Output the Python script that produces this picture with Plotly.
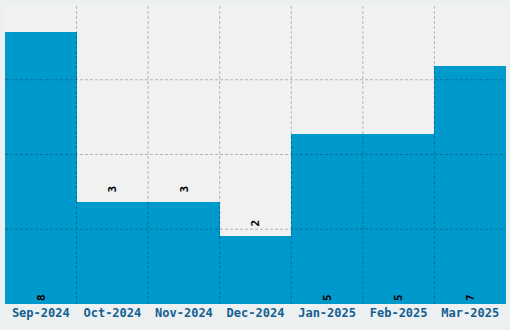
import plotly.graph_objects as go

categories = ["Sep-2024", "Oct-2024", "Nov-2024", "Dec-2024", "Jan-2025", "Feb-2025", "Mar-2025"]
values = [8, 3, 3, 2, 5, 5, 7]
label_positions = ["inside", "outside", "outside", "outside", "inside", "inside", "inside"]

y_max = 8.8
n = len(categories)
xs = list(range(n))

labels = [("\u00a0" + str(v)) if p == "outside" else str(v)
          for v, p in zip(values, label_positions)]

fig = go.Figure()
fig.add_trace(go.Bar(
    x=xs, y=values, width=1.0,
    marker=dict(color="#0099cc", line=dict(width=0)),
    text=labels,
    textposition=label_positions,
    insidetextanchor="start",
    textangle=-90,
    textfont=dict(family="DejaVu Sans Mono", size=11, color="#000000", weight="bold"),
    cliponaxis=False,
    hoverinfo="skip",
))

grid = dict(color="rgba(0,0,0,0.25)", width=1, dash="3px,2px")
shapes = []
for i in range(n - 1):
    shapes.append(dict(type="line", layer="above", xref="x", yref="paper",
                       x0=i + 0.5, x1=i + 0.5, y0=0, y1=1, line=grid))
for k in range(1, 4):
    shapes.append(dict(type="line", layer="above", xref="paper", yref="y",
                       x0=0, x1=1, y0=y_max * k / 4, y1=y_max * k / 4, line=grid))

fig.update_layout(
    width=510, height=330,
    margin=dict(l=5, r=4, t=5, b=26),
    paper_bgcolor="#ecf0f1",
    plot_bgcolor="#f1f1f1",
    showlegend=False,
    bargap=0,
    shapes=shapes,
    xaxis=dict(
        tickmode="array", tickvals=xs, ticktext=categories,
        range=[-0.5, n - 0.5], showgrid=False, zeroline=False, showline=False,
        ticks="", ticklen=0,
        tickfont=dict(family="DejaVu Sans Mono", size=12, color="#145f91", weight="bold"),
    ),
    yaxis=dict(
        range=[0, y_max], showgrid=False, zeroline=False, showticklabels=False,
        showline=False, ticks="",
    ),
)

fig.write_html("out.html")
